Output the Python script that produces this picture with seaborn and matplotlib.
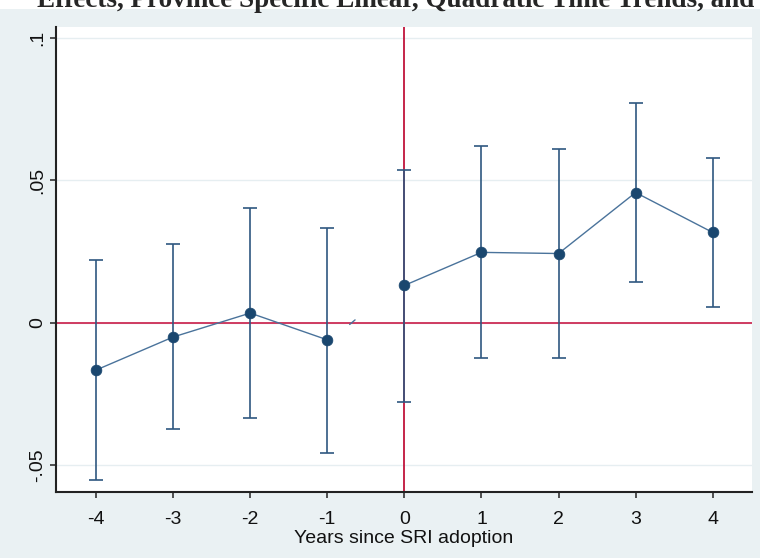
import numpy as np
import pandas as pd
import matplotlib
matplotlib.use("Agg")
import matplotlib.pyplot as plt
import seaborn as sns
from matplotlib.patches import Rectangle

# --- data ---
anos = [-4, -3, -2, -1, 0, 1, 2, 3, 4]
coef = [-0.0166, -0.0050, 0.0034, -0.0060, 0.0131, 0.0247, 0.0243, 0.0457, 0.0317]
ic_sup = [0.0222, 0.0277, 0.0404, 0.0334, 0.0537, 0.0621, 0.0611, 0.0770, 0.0578]
ic_inf = [-0.0553, -0.0373, -0.0335, -0.0458, -0.0278, -0.0124, -0.0124, 0.0143, 0.0054]
periodo = ['pre', 'pre', 'pre', 'pre', 'post', 'post', 'post', 'post', 'post']
# tiny stray segment left of zero in the original
resto_x = [-0.71, -0.64]
resto_y = [-0.0006, 0.0010]

titulo = "Effects, Province Specific Linear, Quadratic Time Trends, and"
rotulo_x = "Years since SRI adoption"
yticks = [-0.05, 0, 0.05, 0.1]
yticklabels = ["-.05", "0", ".05", ".1"]

# --- cores estilo Stata ---
FUNDO = '#eaf1f3'
AZUL = '#1a476f'
AZUL_BARRA = '#2f5880'
AZUL_LINHA = '#4a739b'
VERMELHO = '#cc2d55'

df = pd.DataFrame({'ano': anos, 'coef': coef, 'sup': ic_sup, 'inf': ic_inf, 'periodo': periodo})

sns.set_style("white")
plt.rcParams['font.family'] = ['Liberation Sans Narrow', 'Liberation Sans', 'DejaVu Sans']

fig = plt.figure(figsize=(7.6, 5.58), dpi=100, facecolor=FUNDO)
fig.patches.append(Rectangle((0, 1 - 9 / 558), 1, 9 / 558, transform=fig.transFigure,
                             facecolor='white', edgecolor='none', zorder=0))
ax = fig.add_axes([56 / 760, 66 / 558, 696 / 760, 465 / 558])
ax.set_facecolor('white')

# grid lines at y ticks
for yv in yticks:
    ax.axhline(yv, color='#e6eef1', lw=1.0, zorder=0)

# reference lines
ax.axhline(0, color=VERMELHO, lw=1.3, zorder=1)
ax.axvline(0, color='#c0143c', lw=1.3, zorder=1)

# error bars
ax.errorbar(df['ano'], df['coef'],
            yerr=[df['coef'] - df['inf'], df['sup'] - df['coef']],
            fmt='none', ecolor=AZUL_BARRA, elinewidth=1.2, capsize=5, capthick=1.2, zorder=2)

# connecting lines, pre and post drawn separately
sns.lineplot(data=df, x='ano', y='coef', units='periodo', estimator=None,
             color=AZUL_LINHA, lw=1.0, ax=ax, zorder=3, legend=False)
sns.scatterplot(data=df, x='ano', y='coef', color=AZUL, s=60, edgecolor=AZUL,
                linewidth=0.5, ax=ax, zorder=4, legend=False)
ax.plot(resto_x, resto_y, color=AZUL_LINHA, lw=1.0, zorder=3)

ax.set_xlim(-4.52, 4.51)
ax.set_ylim(-0.0594, 0.1038)
ax.set_xticks(anos)
ax.set_xticklabels([str(a) for a in anos], fontsize=14)
ax.set_yticks(yticks)
ax.set_yticklabels(yticklabels, fontsize=14, rotation=90, va='center')

ax.tick_params(axis='both', direction='out', length=4, width=1.2, color='#333333',
               labelcolor='#111111', bottom=True, left=True)
ax.tick_params(axis='x', pad=10)
ax.tick_params(axis='y', pad=3)

for lado in ['top', 'right']:
    ax.spines[lado].set_visible(False)
for lado in ['left', 'bottom']:
    ax.spines[lado].set_color('#222222')
    ax.spines[lado].set_linewidth(1.5)

ax.set_xlabel(rotulo_x, fontsize=14, labelpad=1, color='#111111')
ax.set_ylabel('')

fig.text(0.5 + 16 / 760, 1 - 7 / 558, titulo, ha='center', va='baseline', fontsize=19.5,
         fontweight='bold', family=['Liberation Serif', 'DejaVu Serif'])

fig.savefig('out.png', dpi=100, facecolor=FUNDO)
